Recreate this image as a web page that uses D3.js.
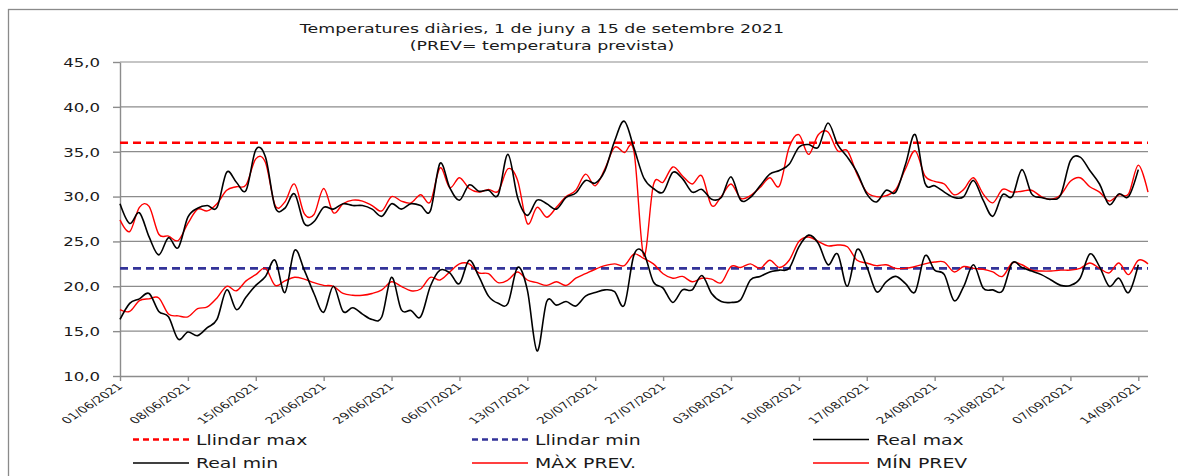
<!DOCTYPE html>
<html>
<head>
<meta charset="utf-8">
<script src="https://cdn.jsdelivr.net/npm/d3@7"></script>
<style>
  body { margin: 0; background: #fff; }
  svg text { font-family: "DejaVu Sans", Verdana, sans-serif; fill: #1a1a1a; }
</style>
</head>
<body>
<div id="chart"></div>
<script>
// daily values, 01/06/2021 .. 15/09/2021 (real series stop on 14/09)
var startDate = "01/06/2021";
var realMax = [29.2,27.0,28.2,25.5,23.5,25.4,24.3,27.7,28.7,29.0,28.8,32.7,31.6,30.7,35.2,34.4,28.8,28.7,30.3,27.0,
  27.2,28.8,28.6,29.2,29.0,29.0,28.6,27.8,29.2,28.6,29.2,29.0,28.4,33.7,31.0,29.6,31.3,30.6,30.7,30.2,
  34.7,29.9,27.9,29.6,29.2,28.6,29.9,30.4,31.8,31.5,32.9,36.2,38.4,35.4,32.1,30.9,30.5,32.7,32.0,30.5,
  30.8,29.7,29.9,32.2,29.6,29.9,31.2,32.5,32.9,33.6,35.5,35.8,35.5,38.2,35.8,34.4,32.7,30.3,29.4,30.7,
  30.5,33.6,36.9,31.5,31.2,30.5,29.9,30.0,31.8,29.6,27.8,30.2,30.0,33.0,30.3,29.9,29.7,30.2,34.0,34.4,
  32.9,31.4,29.1,30.3,30.0,33.0];
var realMin = [16.3,18.1,18.6,19.2,17.2,16.6,14.1,14.9,14.5,15.4,16.3,19.6,17.4,18.8,20.1,21.1,22.9,19.3,24.0,21.8,
  19.2,17.1,20.0,17.2,17.6,16.9,16.3,16.6,21.0,17.4,17.3,16.6,20.0,21.8,21.5,20.3,22.9,21.1,18.9,18.1,
  18.1,22.1,19.6,12.8,18.3,17.9,18.3,17.8,18.9,19.3,19.6,19.4,17.9,23.5,23.7,20.5,19.8,18.2,19.6,19.6,
  21.2,19.2,18.3,18.2,18.5,20.7,21.1,21.6,21.8,22.0,24.4,25.7,24.8,22.4,23.6,20.0,24.1,22.2,19.4,20.5,
  21.1,20.3,19.4,23.4,21.8,21.3,18.4,20.0,22.4,19.8,19.6,19.5,22.6,22.1,21.7,21.3,20.7,20.1,20.1,20.9,
  23.6,22.2,20.0,20.9,19.3,22.4];
var maxPrev = [27.4,26.1,28.8,28.9,25.8,25.6,25.1,27.0,28.6,28.4,29.2,30.7,31.1,31.3,34.2,33.8,29.0,29.4,31.4,28.1,
  28.0,30.9,28.2,29.2,29.6,29.5,29.0,28.4,30.0,29.5,29.3,30.2,29.4,33.2,31.0,32.1,30.9,30.5,30.8,30.6,
  33.1,31.8,27.0,28.8,27.7,28.8,30.0,30.7,32.5,31.2,33.1,35.5,34.9,35.0,23.4,31.3,31.6,33.3,32.3,31.4,
  32.3,29.0,30.0,31.4,29.8,30.1,31.0,32.1,31.2,35.5,36.9,34.7,36.9,37.2,35.1,35.1,32.5,30.5,30.0,30.1,
  30.8,33.1,35.1,32.3,31.7,31.4,30.2,30.8,32.1,30.3,29.3,30.8,30.5,30.6,30.7,30.0,29.7,30.2,31.7,32.1,
  31.1,30.5,29.5,30.2,30.3,33.5,30.5];
var minPrev = [17.4,17.2,18.4,18.6,18.7,16.9,16.7,16.6,17.5,17.7,18.7,20.0,19.5,20.6,21.3,22.0,20.1,20.6,21.0,20.8,
  20.4,20.1,20.0,19.2,19.0,19.0,19.2,19.6,20.5,20.0,19.5,19.7,21.0,20.7,21.6,22.5,22.5,21.5,21.4,20.4,
  20.7,21.6,20.7,20.4,20.1,20.5,20.1,20.9,21.4,21.9,22.3,22.5,22.3,23.6,23.1,22.5,21.4,20.9,21.1,20.5,
  20.9,20.8,20.4,22.2,22.1,22.5,22.0,22.9,22.1,22.9,25.0,25.5,25.0,24.5,24.6,24.4,22.9,22.6,22.3,22.4,
  22.0,22.0,22.2,22.5,22.7,22.7,21.6,22.2,22.0,21.9,21.6,21.1,22.6,22.4,21.8,21.7,21.7,21.8,21.8,22.0,
  22.6,22.0,21.5,22.6,21.3,22.9,22.5];
var llindarMax = 36.0;
var llindarMin = 22.0;

var tickLabels = ["01/06/2021","08/06/2021","15/06/2021","22/06/2021","29/06/2021","06/07/2021","13/07/2021",
  "20/07/2021","27/07/2021","03/08/2021","10/08/2021","17/08/2021","24/08/2021","31/08/2021","07/09/2021","14/09/2021"];
var yTicks = [10,15,20,25,30,35,40,45];
var titleLines = ["Temperatures diàries, 1 de juny a 15 de setembre 2021", "(PREV= temperatura prevista)"];

var W = 1178, H = 476;
var plotLeft = 120, plotRight = 1148, plotTop = 62, plotBottom = 376;
var sx = 1.36; // the original picture is stretched sideways

var parse = d3.timeParse("%d/%m/%Y");
var fmt = d3.format(".1f");
var t0 = parse(startDate);
var dayOf = i => d3.timeDay.offset(t0, i);

var svg = d3.select("#chart").append("svg").attr("width", W).attr("height", H);

// chart frame (right and bottom edges fall outside the picture)
svg.append("rect").attr("x", 8.5).attr("y", 9.5).attr("width", 1200).attr("height", 490)
  .attr("fill", "none").attr("stroke", "#8a8a8a").attr("stroke-width", 1.3);

var x = d3.scaleTime().domain([t0, dayOf(maxPrev.length - 1)]).range([plotLeft, plotRight]);
var y = d3.scaleLinear().domain([10, 45]).range([plotBottom, plotTop]);

// title
svg.selectAll(".title").data(titleLines).join("text").attr("class", "title")
  .attr("text-anchor", "middle").attr("font-size", 12.8)
  .attr("transform", (d, i) => `translate(542,${33 + i * 17}) scale(${sx},1)`).text(d => d);

// grid
svg.append("g").selectAll("line").data(yTicks.slice(1)).join("line")
  .attr("x1", plotLeft).attr("x2", plotRight).attr("y1", d => y(d)).attr("y2", d => y(d))
  .attr("stroke", "#8c8c8c").attr("stroke-width", 1.2);

// y axis
var yAxis = svg.append("g").attr("transform", `translate(${plotLeft},0)`)
  .call(d3.axisLeft(y).tickValues(yTicks).tickSize(7).tickSizeOuter(0).tickFormat(d => fmt(d).replace(".", ",")));
yAxis.selectAll("path,line").attr("stroke", "#8c8c8c").attr("stroke-width", 1.4);
yAxis.selectAll("text").attr("x", null).attr("dy", "0.36em").attr("font-size", 12)
  .attr("font-family", null).attr("fill", "#1a1a1a")
  .attr("transform", `translate(-20,0) scale(1.38,1)`);

// x axis
var xAxis = svg.append("g").attr("transform", `translate(0,${plotBottom})`)
  .call(d3.axisBottom(x).tickValues(tickLabels.map(parse)).tickSize(5).tickSizeOuter(0).tickFormat(d3.timeFormat("%d/%m/%Y")));
xAxis.select(".domain").attr("d", `M${plotLeft},0.5H${plotRight}`);
xAxis.selectAll("path,line").attr("stroke", "#8c8c8c").attr("stroke-width", 1.4);
xAxis.selectAll("text").attr("y", null).attr("dy", null).attr("font-size", 9.2)
  .attr("font-family", null).attr("fill", "#1a1a1a").attr("text-anchor", "end")
  .attr("transform", "translate(3,11) scale(1.5,1) rotate(-45)");

// thresholds
var dashed = [
  {v: llindarMax, color: "#ff0000"},
  {v: llindarMin, color: "#333399"}
];
svg.append("g").selectAll("line").data(dashed).join("line")
  .attr("x1", plotLeft).attr("x2", plotRight).attr("y1", d => y(d.v)).attr("y2", d => y(d.v))
  .attr("stroke", d => d.color).attr("stroke-width", 2.6).attr("stroke-dasharray", "8,5");

var line = d3.line().x((d, i) => x(dayOf(i))).y(d => y(d)).curve(d3.curveCatmullRom.alpha(0));

var series = [
  {vals: maxPrev, color: "#ff0000", w: 1.4},
  {vals: minPrev, color: "#ff0000", w: 1.4},
  {vals: realMax, color: "#000000", w: 1.6},
  {vals: realMin, color: "#000000", w: 1.6}
];
svg.append("g").selectAll("path").data(series).join("path")
  .attr("d", d => line(d.vals)).attr("fill", "none")
  .attr("stroke", d => d.color).attr("stroke-width", d => d.w);

// legend
var legend = [
  {name: "Llindar max", color: "#ff0000", dash: "6,4", w: 2.4, x: 133, row: 0},
  {name: "Llindar min", color: "#333399", dash: "6,4", w: 2.4, x: 472, row: 0},
  {name: "Real max", color: "#000000", dash: null, w: 1.3, x: 813, row: 0},
  {name: "Real min", color: "#000000", dash: null, w: 1.3, x: 133, row: 1},
  {name: "MÀX PREV.", color: "#ff0000", dash: null, w: 1.3, x: 472, row: 1},
  {name: "MÍN PREV", color: "#ff0000", dash: null, w: 1.3, x: 813, row: 1}
];
var lg = svg.append("g").selectAll("g").data(legend).join("g")
  .attr("transform", d => `translate(${d.x},${439.5 + d.row * 23.5})`);
lg.append("line").attr("x1", 0).attr("x2", 56).attr("stroke", d => d.color)
  .attr("stroke-width", d => d.w).attr("stroke-dasharray", d => d.dash);
lg.append("text").attr("font-size", 14.3).attr("dy", "0.36em")
  .attr("transform", `translate(63,0) scale(1.32,1)`).text(d => d.name);
</script>
</body>
</html>
